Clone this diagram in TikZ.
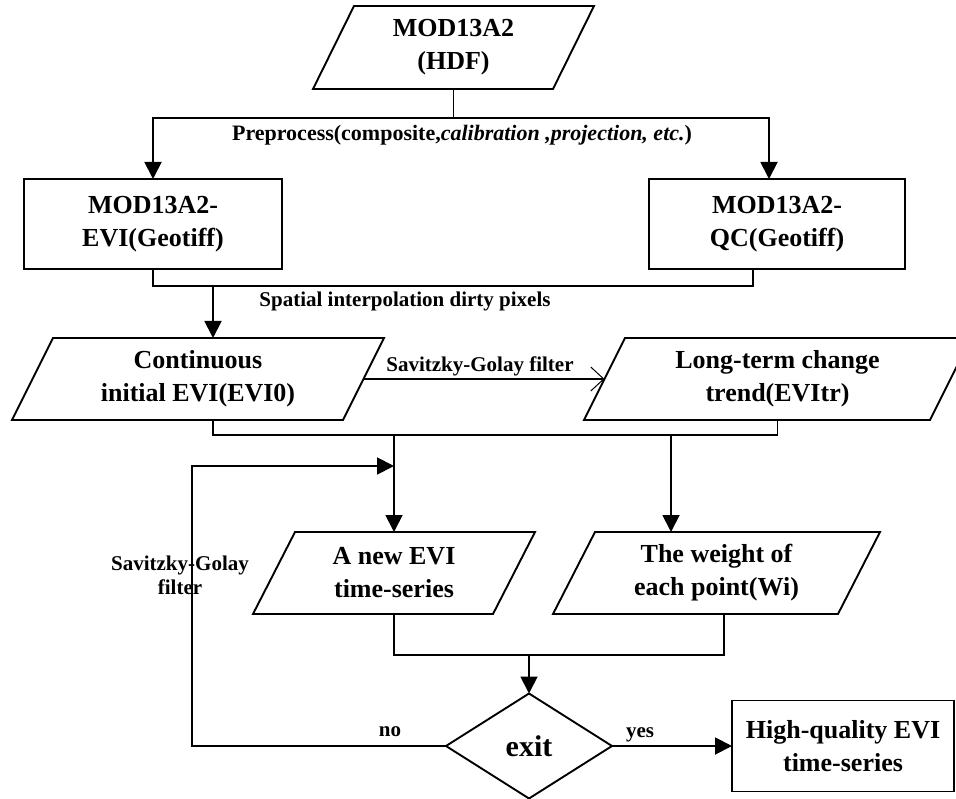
\documentclass[tikz,border=0pt]{standalone}
\usepackage{fontspec}
\setmainfont{Liberation Serif}
\usetikzlibrary{arrows.meta,shapes.geometric}
\tikzset{
  ln/.style={line width=1.9pt, draw=black},
  arr/.style={-{Triangle[length=17pt,width=17pt]}},
  oarr/.style={-{Straight Barb[length=13pt,width=24pt,line width=1pt]}},
  txt/.style={font=\fontsize{26}{33}\selectfont\bfseries, align=center, execute at begin node={\rule{0pt}{29pt}}},
  rbox/.style={txt, draw, line width=1.9pt, inner sep=0pt, outer sep=0pt},
  pbox/.style={txt, inner sep=0pt, outer sep=0pt},
  lbl/.style={font=\fontsize{21}{24}\selectfont\bfseries, inner sep=0pt, align=center},
}
% name, cx, cy, w, h, slant, text
\newcommand\parabox[7]{%
  \node[pbox, minimum width=#4pt, minimum height=#5pt] (#1) at (#2,#3) {#7};
  \draw[ln] ([xshift=#6pt]#1.north west) -- (#1.north east) -- ([xshift=-#6pt]#1.south east) -- (#1.south west) -- cycle;
  \coordinate (#1-r) at ([xshift=-#6pt/2]#1.east);
  \coordinate (#1-l) at ([xshift=#6pt/2]#1.west);
}
\begin{document}
\begin{tikzpicture}[x=1pt,y=-1pt]
\clip (0,0) rectangle (956,799);
\fill[white] (0,0) rectangle (956,799);

% nodes
\parabox{hdf}{453.5}{47.5}{281}{83}{41}{MOD13A2\\(HDF)}
\node[rbox, minimum width=258pt, minimum height=90pt] (evi) at (153,224) {MOD13A2-\\EVI(Geotiff)};
\node[rbox, minimum width=256pt, minimum height=90pt] (qc) at (777,224) {MOD13A2-\\QC(Geotiff)};
\parabox{cont}{198}{379}{372}{82}{41}{Continuous\\initial EVI(EVI0)}
\parabox{trend}{777.5}{379}{387}{82}{41}{Long-term change\\trend(EVItr)}
\parabox{newevi}{394}{573}{282}{82}{42}{A new EVI\\time-series}
\parabox{weight}{716.5}{573}{327}{82}{42}{The weight of\\each point(Wi)}
\node[diamond, draw, line width=1.9pt, inner sep=0pt, outer sep=0pt, minimum width=166pt, minimum height=105pt, font=\fontsize{30}{36}\selectfont\bfseries] (exit) at (529,746) {exit};
\node[rbox, minimum width=222pt, minimum height=91pt] (hq) at (843,746) {High-quality EVI\\time-series};

% junction coordinates
\coordinate (j1) at (453.5,118);
\coordinate (j2) at (213,286);
\coordinate (j3) at (393,435);
\coordinate (j4) at (529,655);
\coordinate (fb) at (192,466);

% connectors
\draw[ln,arr] (hdf.south) -- (j1) -| (evi.north);
\draw[ln,arr] (j1) -| ([xshift=-8pt]qc.north);
\draw[ln] (evi.south) |- ([xshift=-24pt]qc.south |- j2) -- ([xshift=-24pt]qc.south);
\draw[ln,arr] (j2) -- (j2 |- cont.north);
\draw[ln,oarr] (cont-r) -- (trend-l);
\draw[ln] ([xshift=15pt]cont.south) |- (trend.south |- j3) -- (trend.south);
\draw[ln,arr] (newevi.north |- j3) -- (newevi.north);
\draw[ln,arr] ([xshift=-45.5pt]weight.north |- j3) -- ([xshift=-45.5pt]weight.north);
\draw[ln] (newevi.south) |- ([xshift=7.5pt]weight.south |- j4) -- ([xshift=7.5pt]weight.south);
\draw[ln,arr] (j4) -- (exit.north);
\draw[ln,arr] (exit.west) -| (fb) -- (newevi.north |- fb);
\draw[ln,arr] (exit.east) -- (hq.west);

% labels
\node[lbl, font=\fontsize{22}{24}\selectfont\bfseries] (lpre) at (462,135) {Preprocess(composite,\textit{calibration ,projection, etc.})};
\node[lbl] (lspat) at (405,301) {Spatial interpolation dirty pixels};
\node[lbl] (lsg) at (480,366) {Savitzky-Golay filter};
\node[lbl] (lsg2) at (180,575) {Savitzky-Golay\\filter};
\node[lbl] (lno) at (390,732) {no};
\node[lbl] (lyes) at (640,735) {yes};
\end{tikzpicture}
\end{document}
